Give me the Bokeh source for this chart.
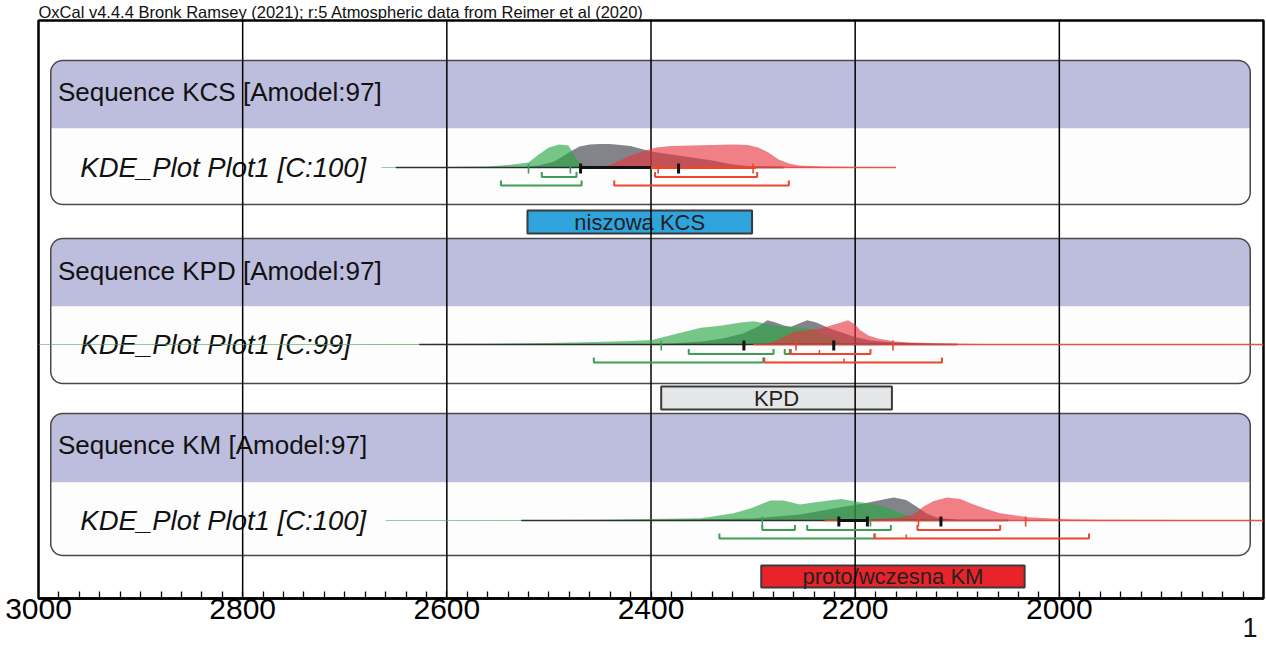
from bokeh.plotting import figure
from bokeh.models import Range1d, FixedTicker, BoxAnnotation, Title
from bokeh.core.properties import value
from bokeh.embed import file_html
from bokeh.resources import INLINE

# ---------------- data ----------------
TITLE = "OxCal v4.4.4 Bronk Ramsey (2021); r:5 Atmospheric data from Reimer et al (2020)"
sequence_names = ["Sequence KCS [Amodel:97]", "Sequence KPD [Amodel:97]", "Sequence KM [Amodel:97]"]
kde_names = ["KDE_Plot Plot1 [C:100]", "KDE_Plot Plot1 [C:99]", "KDE_Plot Plot1 [C:100]"]
phase_labels = ["niszowa KCS", "KPD", "proto/wczesna KM"]
phase_start = [2521, 2390, 2292]
phase_end = [2301, 2164, 2034]
major_ticks = [3000, 2800, 2600, 2400, 2200, 2000]
minor_ticks = list(range(1820, 3000, 20))
grid_years = [2800, 2600, 2400, 2200, 2000]
page_number = "1"

# KCS panel (density in relative units)
kcs_green_yr = [2664, 2600, 2560, 2540, 2520, 2510, 2500, 2490, 2481, 2476, 2470, 2462, 2450]
kcs_green_d = [0, 0.5, 1, 2.5, 5, 13, 20, 23, 22, 14, 4, 1, 0]
kcs_gray_yr = [2530, 2510, 2495, 2485, 2479, 2470, 2460, 2450, 2440, 2420, 2400, 2380, 2360, 2340, 2320, 2300, 2270]
kcs_gray_d = [0, 2, 6, 12, 16, 21, 23, 23.5, 23.5, 21.5, 16, 13, 10, 7, 3, 1, 0]
kcs_red_yr = [2446, 2435, 2420, 2405, 2395, 2380, 2360, 2340, 2320, 2305, 2295, 2285, 2275, 2265, 2255, 2230, 2200, 2160]
kcs_red_d = [0, 5, 12, 17, 20, 21.5, 22, 22.5, 23, 22.5, 20, 15, 8, 4, 2, 1, 0.5, 0]

# KPD panel
kpd_green_yr = [3000, 2700, 2560, 2500, 2456, 2420, 2399, 2374, 2351, 2332, 2312, 2300, 2293, 2280, 2260, 2245, 2230, 2215, 2200, 2190]
kpd_green_d = [0, 0.3, 0.8, 1.5, 2.5, 3.5, 4.5, 11, 16.7, 18.7, 22, 23.3, 22, 19, 17, 16, 10, 4, 1, 0]
kpd_gray_yr = [2420, 2380, 2350, 2330, 2310, 2295, 2286, 2278, 2270, 2263, 2255, 2247, 2238, 2225, 2210, 2202, 2185, 2162, 2130, 2100]
kpd_gray_d = [0, 1, 3, 6, 11, 18, 24.3, 22, 19, 17.7, 21, 24.3, 22, 16, 11, 8, 4, 2, 0.8, 0]
kpd_red_yr = [2300, 2286, 2275, 2260, 2245, 2234, 2217, 2207, 2200, 2195, 2187, 2178, 2160, 2146, 2110, 2077, 1800]
kpd_red_d = [0, 1, 5, 12.7, 14.5, 16, 21, 24.3, 20, 14.3, 9, 6, 3, 2, 1, 0.5, 0.2]

# KM panel
km_green_yr = [2660, 2550, 2450, 2400, 2351, 2319, 2302, 2283, 2270, 2254, 2237, 2214, 2202, 2188, 2172, 2156, 2143, 2130]
km_green_d = [0, 0.3, 0.8, 1.5, 2.3, 7.3, 12.3, 20, 20, 16, 18.5, 21.5, 19.5, 17, 14, 8, 2, 0]
km_gray_yr = [2500, 2400, 2300, 2254, 2221, 2188, 2170, 2162, 2150, 2140, 2130, 2120, 2100, 2050]
km_gray_d = [0, 0.5, 2, 6, 12, 17.7, 21.5, 23, 20.5, 14, 7, 3, 0.5, 0]
km_red_yr = [2230, 2185, 2156, 2143, 2133, 2123, 2110, 2097, 2084, 2070, 2058, 2031, 1992, 1960, 1800]
km_red_d = [0, 1, 3, 6, 14, 19.5, 23, 21.5, 16, 11, 7.3, 3.3, 1.3, 0.7, 0.3]

# thin baseline extents (start, end) for green / black / red
kcs_lines = [(2664, 2450), (2650, 2270), (2446, 2160)]
kpd_lines = [(3000, 2190), (2627, 2100), (2300, 1800)]
km_lines = [(2660, 2130), (2527, 2050), (2230, 1800)]

# mean +/- sd bars
kcs_bars_black = [(2469, 2400)]
kcs_bars_red = [(2400, 2297)]
kpd_bars_black = []
kpd_bars_red = []
km_bars_black = [(2216, 2188)]
km_bars_red = []

# tick marks on the baseline
kcs_ticks = {"green": [2520, 2479], "black": [2469, 2373], "red": [2393, 2300]}
kpd_ticks = {"green": [2390], "black": [2309, 2221], "red": [2258, 2163]}
km_ticks = {"green": [2291, 2185], "black": [2216, 2188, 2116], "red": [2138, 2033]}

# highest-density ranges: 68.2% (row 1) and 95.4% (row 2)
kcs_ranges = {"green68": [(2507, 2473)], "green95": [(2547, 2468)],
              "red68": [(2396, 2296)], "red95": [(2436, 2265)]}
kpd_ranges = {"green68": [(2363, 2280), (2269, 2263)], "green95": [(2456, 2290)],
              "red68": [(2264, 2185)], "red95": [(2289, 2115)]}
km_ranges = {"green68": [(2291, 2259), (2247, 2165)], "green95": [(2333, 2181)],
             "red68": [(2139, 2058)], "red95": [(2181, 1971)]}
kpd_joins = {"red68": [2235], "red95": [2211]}
km_joins = {"red95": [2150]}
kcs_joins = {}

# ---------------- layout (pixel rows, y grows downward) ----------------
panel_top = [60, 238, 413]
panel_head = [128, 306, 482]
panel_bottom = [204, 383, 555]
panel_title_y = [91, 270, 444]
panel_base = [167, 344, 520]
box_top = [210, 386, 565]
box_bottom = [233, 409, 587]
box_colors = ["#2ea3dc", "#e4e6e8", "#e8242a"]
PANEL_LEFT, PANEL_RIGHT = 2988, 1813

GREEN_FILL, GRAY_FILL, RED_FILL = "#2aa845", "#393944", "#e8343e"
GREEN_LINE, RED_LINE = "#3f9e55", "#e9472e"
FONT = "Liberation Sans"


def Y(px):
    return -px


p = figure(width=1266, height=653, x_range=Range1d(3000, 1800), y_range=Range1d(-598, -20),
           output_backend="svg", toolbar_location=None, y_axis_location=None,
           min_border_left=38, min_border_right=3, min_border_top=0, min_border_bottom=55)
p.xgrid.visible = False
p.ygrid.visible = False
p.outline_line_color = "black"
p.outline_line_width = 2.5
p.background_fill_color = "white"
p.border_fill_color = "white"

p.title.text = TITLE
p.title.text_font = FONT
p.title.text_font_size = "16.5px"
p.title.text_font_style = "normal"
p.title.text_color = "#111111"
p.title.align = "left"
p.title.standoff = 0
p.title.offset = 0

ax = p.xaxis[0]
ax.ticker = FixedTicker(ticks=major_ticks, minor_ticks=minor_ticks)
ax.axis_line_width = 2.5
ax.axis_line_color = "black"
ax.major_tick_in = 0
ax.major_tick_out = 0
ax.minor_tick_in = 7
ax.minor_tick_out = 0
ax.minor_tick_line_width = 1.3
ax.minor_tick_line_color = "black"
ax.major_label_text_font = FONT
ax.major_label_text_font_size = "30px"
ax.major_label_text_color = "black"
ax.major_label_standoff = 0

# page number under the axis, right-aligned (positive offset moves it left here)
p.add_layout(Title(text=page_number, align="right", text_font=FONT, text_font_size="27px",
                   text_font_style="normal", text_color="#111111", standoff=-12, offset=6), "below")

# panels
for i in range(3):
    p.add_layout(BoxAnnotation(left=PANEL_LEFT, right=PANEL_RIGHT, top=Y(panel_top[i]), bottom=Y(panel_head[i]),
                               fill_color="#bdbddd", fill_alpha=1, line_alpha=0,
                               border_radius=(12, 12, 0, 0), level="underlay"))
    p.add_layout(BoxAnnotation(left=PANEL_LEFT, right=PANEL_RIGHT, top=Y(panel_head[i]), bottom=Y(panel_bottom[i]),
                               fill_color="#fdfdfd", fill_alpha=1, line_alpha=0,
                               border_radius=(0, 0, 12, 12), level="underlay"))
    p.add_layout(BoxAnnotation(left=PANEL_LEFT, right=PANEL_RIGHT, top=Y(panel_top[i]), bottom=Y(panel_bottom[i]),
                               fill_alpha=0, line_color="#4a4a4a", line_alpha=1, line_width=1.5,
                               border_radius=12, level="underlay"))

# phase boxes
p.quad(left=phase_start, right=phase_end, top=[Y(v) for v in box_top], bottom=[Y(v) for v in box_bottom],
       fill_color=box_colors, line_color="#3a3a3a", line_width=2)
p.text(x=[(a + b) / 2 for a, b in zip(phase_start, phase_end)],
       y=[Y((t + b) / 2) for t, b in zip(box_top, box_bottom)],
       text=phase_labels, text_font=value(FONT), text_font_size="22px", text_color="#222222",
       text_align="center", text_baseline="alphabetic")

# panel texts
p.text(x=[2981] * 3, y=[Y(v) for v in panel_title_y], text=sequence_names,
       text_font=value(FONT), text_font_size="26px", text_color="#111111", text_baseline="alphabetic")
p.text(x=[2959] * 3, y=[Y(v) for v in panel_base], text=kde_names,
       text_font=value(FONT), text_font_size="27.5px", text_font_style="italic", text_color="#111111",
       text_baseline="alphabetic")

# vertical grid lines
p.segment(x0=grid_years, y0=[-598] * 5, x1=grid_years, y1=[-20] * 5, line_color="black", line_width=1.5)


def dist(yr, d, base, color, alpha):
    xs = [yr[0]] + list(yr) + [yr[-1]]
    ys = [Y(base)] + [Y(base) + v for v in d] + [Y(base)]
    p.patch(xs, ys, fill_color=color, fill_alpha=alpha, line_alpha=0)


panels = [
    (kcs_green_yr, kcs_green_d, kcs_gray_yr, kcs_gray_d, kcs_red_yr, kcs_red_d, kcs_lines,
     kcs_bars_black, kcs_bars_red, kcs_ticks, kcs_ranges, kcs_joins),
    (kpd_green_yr, kpd_green_d, kpd_gray_yr, kpd_gray_d, kpd_red_yr, kpd_red_d, kpd_lines,
     kpd_bars_black, kpd_bars_red, kpd_ticks, kpd_ranges, kpd_joins),
    (km_green_yr, km_green_d, km_gray_yr, km_gray_d, km_red_yr, km_red_d, km_lines,
     km_bars_black, km_bars_red, km_ticks, km_ranges, km_joins),
]

line_colors = ["#5aa86a", "#222222", "#e8453a"]
tick_colors = {"green": GREEN_LINE, "black": "#111111", "red": RED_LINE}

for i, (gy, gd, ky, kd, ry, rd, lines, bb, br, ticks, ranges, joins) in enumerate(panels):
    base = panel_base[i]
    dist(ky, kd, base, GRAY_FILL, 0.62)
    dist(gy, gd, base, GREEN_FILL, 0.64)
    dist(ry, rd, base, RED_FILL, 0.62)
    for (a, b), c in zip(lines, line_colors):
        p.line([a, b], [Y(base), Y(base)], line_color=c, line_width=1.3 if c != "#5aa86a" else 1.1,
               line_alpha=0.9 if c != "#5aa86a" else 0.6)
    for a, b in bb:
        p.line([a, b], [Y(base), Y(base)], line_color="#111111", line_width=3)
    for a, b in br:
        p.line([a, b], [Y(base), Y(base)], line_color=RED_LINE, line_width=3)
    for key, vals in ticks.items():
        w = 3 if key == "black" else 1.6
        p.segment(x0=vals, y0=[Y(base - 4)] * len(vals), x1=vals, y1=[Y(base + 6)] * len(vals),
                  line_color=tick_colors[key], line_width=w)
    for key, segs in ranges.items():
        col = GREEN_LINE if key.startswith("green") else RED_LINE
        ry_px = base + (9.5 if key.endswith("68") else 18)
        xs = [[a, a, b, b] for a, b in segs]
        ys = [[Y(ry_px - 5), Y(ry_px), Y(ry_px), Y(ry_px - 5)] for _ in segs]
        p.multi_line(xs, ys, line_color=col, line_width=2)
    for key, vals in joins.items():
        col = GREEN_LINE if key.startswith("green") else RED_LINE
        ry_px = base + (9.5 if key.endswith("68") else 18)
        p.segment(x0=vals, y0=[Y(ry_px - 4)] * len(vals), x1=vals, y1=[Y(ry_px)] * len(vals),
                  line_color=col, line_width=1.5)

open("out.html", "w").write(file_html(p, INLINE))
